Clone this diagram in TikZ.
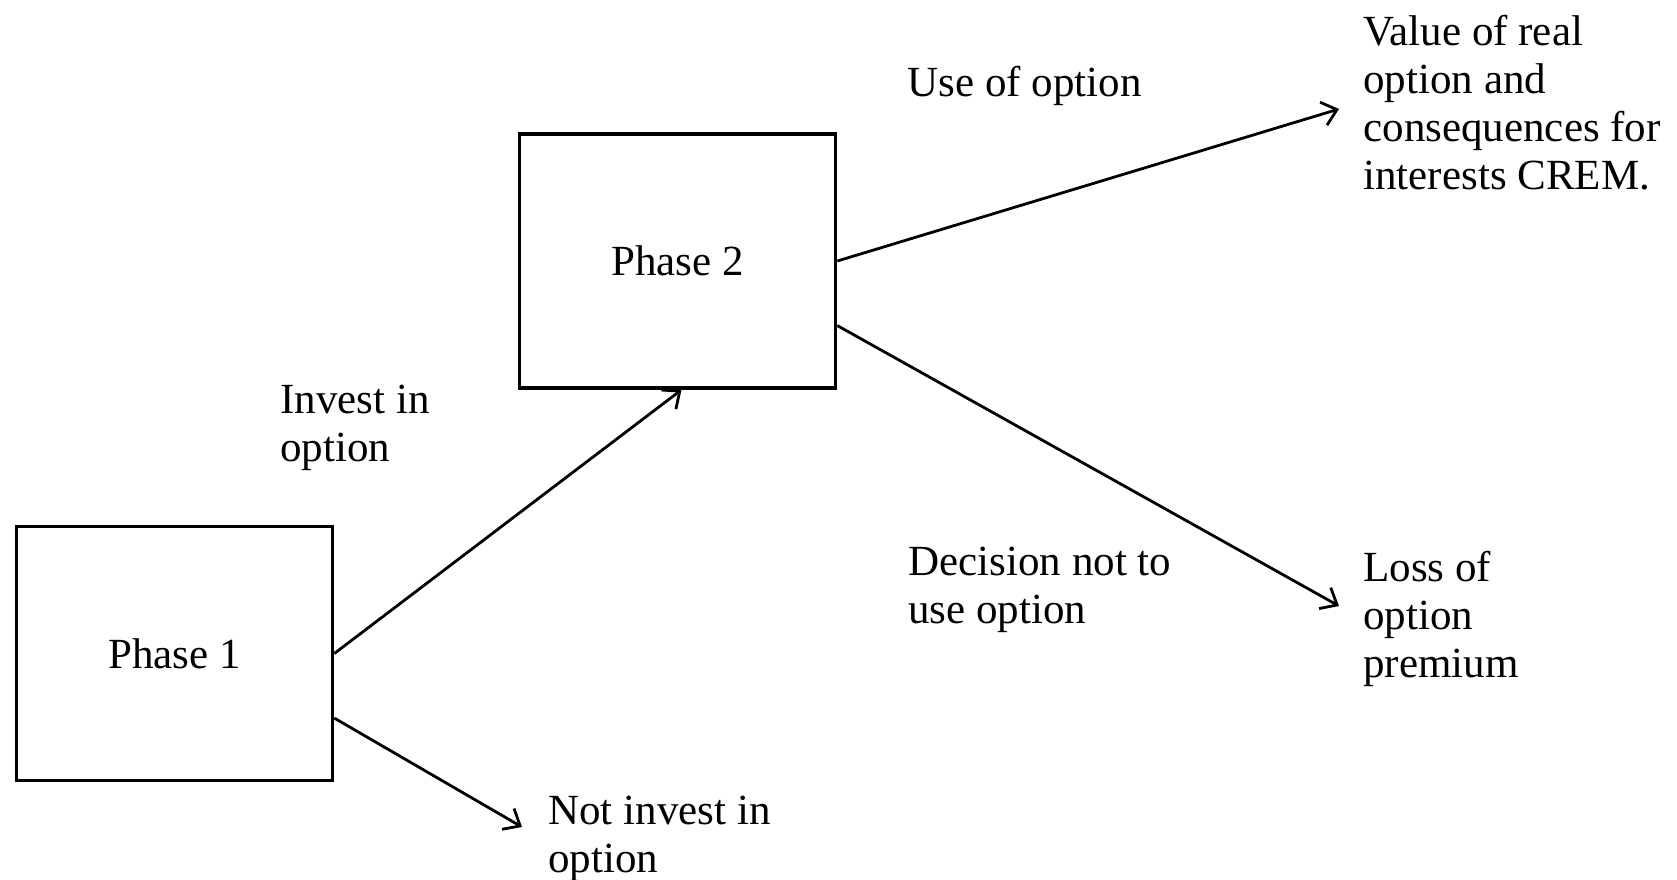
\documentclass[tikz,border=0pt]{standalone}
\usepackage{fontspec}
\setmainfont{Liberation Serif}
\usetikzlibrary{positioning,arrows.meta}

\begin{document}
\begin{tikzpicture}[x=0.5pt, y=-0.5pt,
		every node/.style={font=\fontsize{21.5}{24}\selectfont},
		phase/.style={draw, line width=1.8pt, minimum width=158pt, minimum height=127pt, inner sep=0pt},
		lbl/.style={anchor=west, align=left, inner sep=0pt},
		conn/.style={line width=1.4pt, -{Straight Barb[length=7pt,width=12pt]}}]
				\useasboundingbox (0,0) rectangle (1677,879);
				\node[phase] (p1) at (174.5,653.5) {Phase 1};
				\node[phase] (p2) at (677.5,261) {Phase 2};
				\node[lbl] (invest) at (280,428) {Invest in\\option};
				\node[lbl] (notinvest) at (548,839) {Not invest in\\option};
				\node[lbl] (use) at (907,86) {Use of option};
				\node[lbl] (value) at (1363,103) {Value of real\\option and\\consequences for\\interests CREM.};
				\node[lbl] (decision) at (908,590) {Decision not to\\use option};
				\node[lbl] (loss) at (1363,619) {Loss of\\option\\premium};
				\coordinate (tipnot) at (522,827);
				\coordinate (tipvalue) at (1339,109);
				\coordinate (tiploss) at (1339,606);
				\draw[conn] (p1.east) -- ([xshift=2pt]p2.south);
				\draw[conn] (p1.-22.6) -- (tipnot);
				\draw[conn] (p2.east) -- (tipvalue);
				\draw[conn] (p2.-22.2) -- (tiploss);
			\end{tikzpicture}
\end{document}
